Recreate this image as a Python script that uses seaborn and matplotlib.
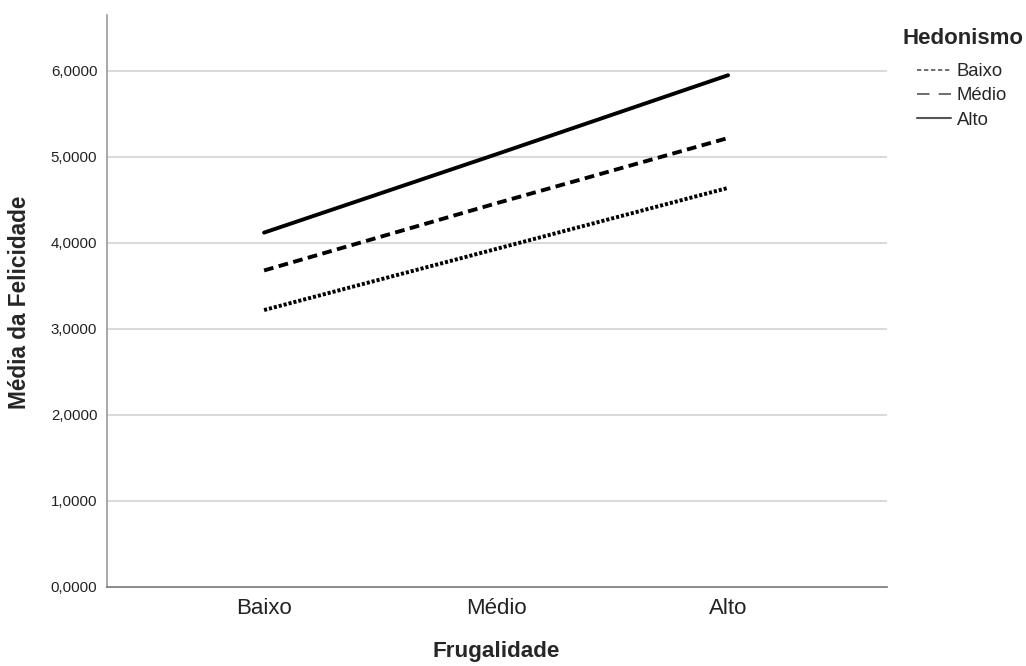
import numpy as np
import pandas as pd
import matplotlib
matplotlib.use("Agg")
import matplotlib.pyplot as plt
from matplotlib.lines import Line2D
import seaborn as sns

# dados
frugalidade = ["Baixo", "Médio", "Alto"]
hedonismo = ["Baixo", "Médio", "Alto"]
media_baixo = [3.22, 3.93, 4.64]
media_medio = [3.68, 4.46, 5.22]
media_alto = [4.12, 5.03, 5.95]
y_ticks = [0, 1, 2, 3, 4, 5, 6]
y_tick_labels = ["0,0000", "1,0000", "2,0000", "3,0000", "4,0000", "5,0000", "6,0000"]

df = pd.DataFrame({
    "Frugalidade": frugalidade * 3,
    "Hedonismo": [h for h in hedonismo for _ in frugalidade],
    "Media": media_baixo + media_medio + media_alto,
})

sns.set_style("white")
plt.rcParams["font.family"] = ["Liberation Sans", "DejaVu Sans"]

fig = plt.figure(figsize=(10.26, 6.66), dpi=100)
ax = fig.add_axes([107 / 1026, 79 / 666, 780 / 1026, 572 / 666])

# padrões de traço (em múltiplos da espessura da linha)
dash_styles = {"Baixo": (0.8, 0.5), "Médio": (2.5, 1.4), "Alto": ""}
sns.lineplot(data=df, x="Frugalidade", y="Media", style="Hedonismo",
             dashes=dash_styles, color="black", linewidth=2.8,
             legend=False, ax=ax, sort=False)

ax.set_xlim(-0.677, 2.685)
ax.set_ylim(0, 6.65)
ax.set_yticks(y_ticks)
ax.set_yticklabels(y_tick_labels, fontsize=10.8, color="#222222")
ax.set_xticks(range(len(frugalidade)))
ax.set_xticklabels(frugalidade, fontsize=16, color="#222222")
ax.tick_params(axis="both", length=0)
ax.tick_params(axis="y", pad=7)
ax.tick_params(axis="x", pad=8)

for y in y_ticks[1:]:
    ax.axhline(y, color="#cfcfcf", linewidth=1.1, zorder=0)

for side in ["top", "right"]:
    ax.spines[side].set_visible(False)
ax.spines["left"].set_color("#999999")
ax.spines["bottom"].set_color("#777777")
ax.spines["left"].set_linewidth(1.2)
ax.spines["bottom"].set_linewidth(1.2)

ax.set_xlabel("")
ax.set_ylabel("")
fig.text(496 / 1026, 1 - 652 / 666, "Frugalidade", fontsize=16.2,
         fontweight="bold", ha="center", va="center")
fig.text(20 / 1026, 1 - 302 / 666, "Média da Felicidade", fontsize=16.3,
         fontweight="bold", ha="center", va="center", rotation=90)

# legenda
fig.text(902 / 1026, 1 - 38 / 666, "Hedonismo", fontsize=16,
         fontweight="bold", ha="left", va="center")
handles = [
    Line2D([0], [0], color="#555555", linewidth=1.2, linestyle=(0, (2.6, 1.6))),
    Line2D([0], [0], color="#555555", linewidth=1.2, linestyle=(0, (7.5, 5.5))),
    Line2D([0], [0], color="#555555", linewidth=1.5),
]
leg = ax.legend(handles, hedonismo, loc="upper left",
                bbox_to_anchor=(917 / 1026, 1 - 63 / 666),
                bbox_transform=fig.transFigure, frameon=False, fontsize=13.3,
                handlelength=1.85, handletextpad=0.3, labelspacing=0.4,
                borderpad=0, borderaxespad=0)

fig.savefig("out.png", dpi=100)
